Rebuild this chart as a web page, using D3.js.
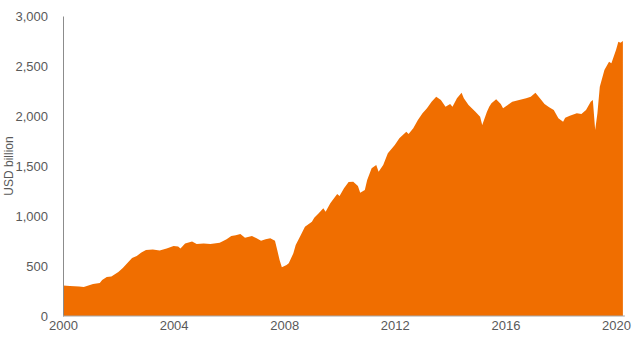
<!DOCTYPE html>
<html lang="en">
<head>
  <meta charset="UTF-8">
  <title>USD billion</title>
  <script src="https://d3js.org/d3.v7.min.js"></script>
  <style>
    body {
      margin: 0;
      background: #fff;
      font-family: "Liberation Sans", Arial, sans-serif;
    }
    .tick text {
      fill: #595959;
      font-size: 13px;
    }
  </style>
</head>
<body>
  <div id="chart"></div>

  <script>
    // months and values (USD billion)
    const months = [
      "2000-01","2000-04","2000-08","2000-10","2001-02","2001-05","2001-06","2001-08","2001-10",
      "2002-01","2002-03","2002-05","2002-07","2002-09","2002-11","2003-01","2003-04","2003-07","2003-10",
      "2004-01","2004-03","2004-04","2004-06","2004-09","2004-11","2005-02","2005-05","2005-09","2005-12",
      "2006-02","2006-04","2006-06","2006-08","2006-11","2007-01","2007-03","2007-05","2007-07","2007-09",
      "2007-10","2007-11","2007-12","2008-02","2008-03","2008-05","2008-06","2008-08","2008-10",
      "2009-01","2009-02","2009-04","2009-06","2009-07","2009-09","2009-12","2010-01","2010-03","2010-05",
      "2010-07","2010-09","2010-10","2010-12","2011-01","2011-03","2011-05","2011-06","2011-08","2011-10",
      "2012-01","2012-03","2012-06","2012-07","2012-09","2012-11","2013-01","2013-03","2013-05","2013-07",
      "2013-09","2013-11","2014-01","2014-02","2014-04","2014-06","2014-07","2014-09","2014-12",
      "2015-02","2015-03","2015-05","2015-06","2015-07","2015-09","2015-11","2015-12",
      "2016-02","2016-04","2016-07","2016-10","2016-12","2017-02","2017-04","2017-06","2017-08","2017-10","2017-12",
      "2018-02","2018-03","2018-05","2018-08","2018-10","2018-12","2019-02","2019-03","2019-04","2019-05",
      "2019-06","2019-08","2019-10","2019-11","2020-01","2020-02","2020-03","2020-04"
    ];
    const values = [
      305,300,295,290,320,330,360,390,395,
      440,480,530,580,600,635,660,665,655,675,
      700,695,675,725,745,720,725,720,733,767,
      800,807,820,783,800,777,753,767,777,753,
      660,560,487,510,527,627,710,800,893,
      943,983,1027,1077,1043,1127,1220,1200,1277,1340,
      1343,1300,1233,1260,1360,1477,1510,1443,1510,1627,
      1710,1777,1843,1820,1877,1960,2027,2077,2143,2193,
      2160,2093,2120,2093,2177,2233,2177,2110,2043,
      1993,1910,2040,2093,2127,2167,2120,2077,
      2110,2143,2160,2177,2193,2233,2177,2120,2087,2060,1977,
      1943,1983,2003,2027,2020,2060,2143,2160,1860,2030,
      2293,2460,2543,2527,2660,2743,2733,2750
    ];
    const yTicks = [0, 500, 1000, 1500, 2000, 2500, 3000];
    const xTickYears = [2000, 2004, 2008, 2012, 2016, 2020];

    const width = 640;
    const height = 345;
    const margin = {top: 16, right: 24, bottom: 29, left: 63};

    const parse = d3.timeParse("%Y-%m");
    const data = months.map((m, i) => ({date: parse(m), value: values[i]}));

    const svg = d3.select("#chart")
      .append("svg")
      .attr("width", width)
      .attr("height", height);

    const x = d3.scaleTime()
      .domain([new Date(2000, 0, 1), new Date(2020, 0, 1)])
      .range([margin.left, width - margin.right]);

    const y = d3.scaleLinear()
      .domain([0, 3000])
      .range([height - margin.bottom, margin.top]);

    const area = d3.area()
      .x(d => x(d.date))
      .y0(y(0))
      .y1(d => y(d.value));

    svg.append("path")
      .datum(data)
      .attr("fill", "#f06e00")
      .attr("d", area);

    // y axis
    const yAxis = svg.append("g")
      .attr("transform", `translate(${margin.left},0)`)
      .call(d3.axisLeft(y)
        .tickValues(yTicks)
        .tickFormat(d3.format(","))
        .tickSize(0)
        .tickPadding(15));
    yAxis.select(".domain").attr("stroke", "#8c8c8c");

    // x axis
    const xAxis = svg.append("g")
      .attr("transform", `translate(0,${y(0)})`)
      .call(d3.axisBottom(x)
        .tickValues(xTickYears.map(yr => new Date(yr, 0, 1)))
        .tickFormat(d3.timeFormat("%Y"))
        .tickSize(0)
        .tickPadding(5));
    xAxis.select(".domain")
      .attr("stroke", "#a6a6a6")
      .attr("d", `M${margin.left},0H${x(data[data.length - 1].date) + 2}`);

    svg.append("text")
      .attr("transform", `translate(13,${(margin.top + y(0)) / 2}) rotate(-90)`)
      .attr("text-anchor", "middle")
      .attr("fill", "#595959")
      .style("font-size", "12px")
      .text("USD billion");
  </script>
</body>
</html>
